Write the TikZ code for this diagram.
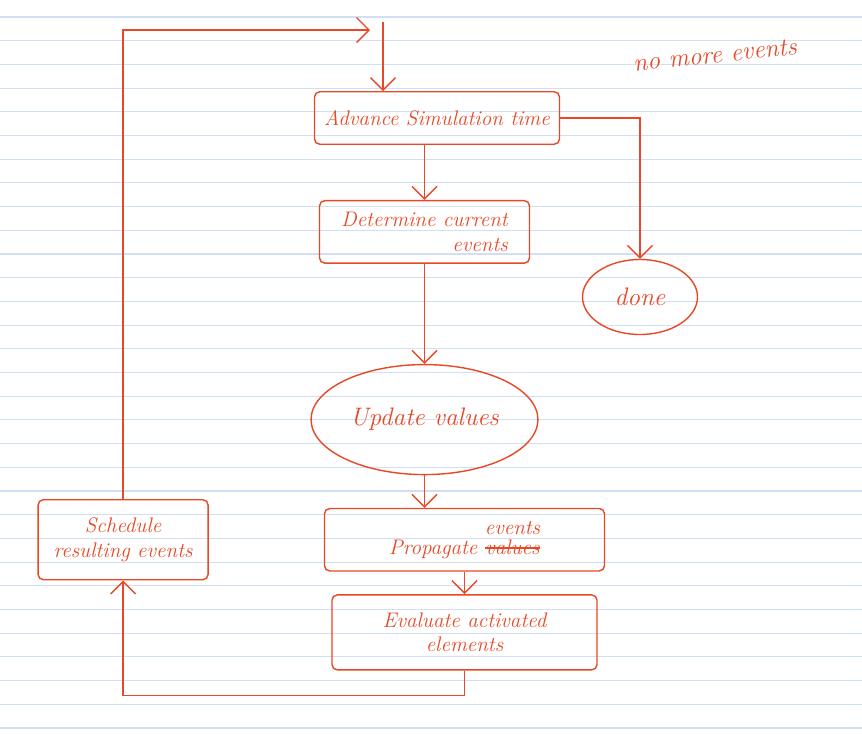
\documentclass[tikz,border=0pt]{standalone}
\usepackage{tikz}
\usetikzlibrary{shapes.geometric, arrows.meta, positioning}
\definecolor{pen}{RGB}{232,72,38}
\definecolor{ruling}{RGB}{208,224,242}
\newcommand\crossout[1]{\setbox0\hbox{#1}\rlap{\rule[0.6ex]{\wd0}{0.9pt}}\box0}

\begin{document}
\begin{tikzpicture}[
    font=\large\itshape,
    box/.style={rectangle, rounded corners=3pt, draw=pen, text=pen, thick,
                align=center, inner sep=3pt},
    blob/.style={ellipse, draw=pen, text=pen, thick, align=center},
    arrow/.style={-{Straight Barb[length=2.5mm]}, thick, draw=pen}
]

% lined paper
\fill[white] (0,0) rectangle (17.24,-14.68);
\useasboundingbox (0,0) rectangle (17.24,-14.68);
\foreach \k in {0,...,30}
    \draw[ruling, line width=0.6pt] (0,-0.34-0.474*\k) -- (17.24,-0.34-0.474*\k);

\node[box, minimum width=4.9cm, minimum height=1.05cm] (advance) at (8.74,-2.36) {Advance Simulation time};
\node[box, align=right, minimum width=4.2cm, minimum height=1.25cm, below=1.1cm of advance, xshift=-0.25cm] (determine) {Determine current\\events};
\node[blob, font=\Large\itshape, minimum width=4.5cm, minimum height=2.2cm, below=2cm of determine] (update) {Update values};
\node[box, minimum width=5.6cm, minimum height=1.25cm, below=0.65cm of update, xshift=0.8cm] (propagate) {Propagate \shortstack{events\\\crossout{values}}};
\node[box, minimum width=5.3cm, minimum height=1.5cm, below=0.45cm of propagate] (evaluate) {Evaluate activated\\elements};
\node[box, minimum width=3.4cm, minimum height=1.6cm, left=2.3cm of propagate] (schedule) {Schedule\\resulting events};

\node[blob, font=\Large\itshape, minimum width=2.3cm, minimum height=1.5cm] (done) at (12.8,-5.94) {done};
\node[text=pen, font=\Large\itshape, rotate=6] (nomore) at (14.3,-1.1) {no more events};

\coordinate (turn) at (7.4,-0.6);
\coordinate (entry) at (7.66,-0.44);

\draw[arrow] (schedule.north) |- (turn);
\draw[arrow] (entry) -- (entry |- advance.north);
\draw[arrow] (advance.south -| determine) -- (determine.north);
\draw[arrow] (determine) -- (update);
\draw[arrow] (update.south) -- (update.south |- propagate.north);
\draw[arrow] (propagate) -- (evaluate);
\draw[arrow] (advance.east) -| (done.north);
\draw[arrow] (evaluate.south) -- ++(0,-0.5) -| (schedule.south);

\end{tikzpicture}
\end{document}
